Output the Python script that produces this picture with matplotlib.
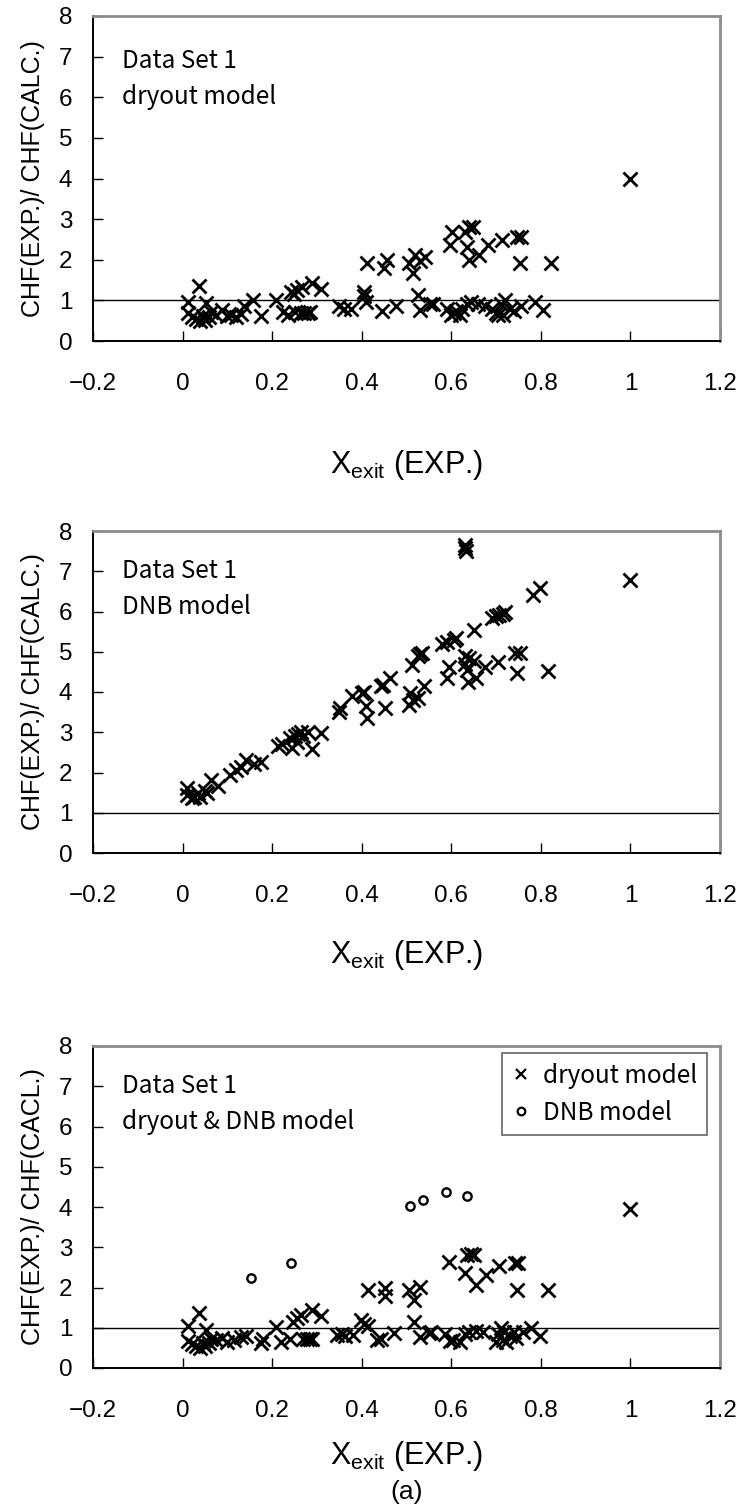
import matplotlib
matplotlib.use("Agg")
import matplotlib.pyplot as plt
from matplotlib.lines import Line2D
from matplotlib.ticker import FixedLocator, FixedFormatter

plt.rcParams['font.family'] = ['Liberation Sans', 'DejaVu Sans']
plt.rcParams['mathtext.default'] = 'regular'

# ---- data -----------------------------------------------------------------
# Panel 1: dryout model
dry_x = [0.013, 0.036, 0.013, 0.020, 0.030, 0.040, 0.045, 0.053, 0.063, 0.050,
         0.058, 0.075, 0.087, 0.100, 0.109, 0.120, 0.130, 0.138, 0.158, 0.175,
         0.209, 0.224, 0.235, 0.242, 0.248, 0.256, 0.267, 0.290, 0.309, 0.250,
         0.265, 0.272, 0.280, 0.285, 0.350, 0.360, 0.375, 0.404, 0.405, 0.410,
         0.411, 0.446, 0.456, 0.450, 0.476, 0.505, 0.520, 0.515, 0.542, 0.530,
         0.526, 0.530, 0.553, 0.560, 0.590, 0.600, 0.605, 0.610, 0.620, 0.625,
         0.635, 0.645, 0.660, 0.675, 0.690, 0.700, 0.705, 0.710, 0.715, 0.720,
         0.730, 0.740, 0.755, 0.787, 0.805, 0.598, 0.602, 0.631, 0.640, 0.648,
         0.636, 0.639, 0.661, 0.683, 0.713, 0.746, 0.755, 0.753, 0.822, 1.000]
dry_y = [0.97, 1.35, 0.68, 0.60, 0.55, 0.50, 0.62, 0.93, 0.72, 0.52,
         0.60, 0.65, 0.76, 0.62, 0.65, 0.60, 0.66, 0.85, 1.01, 0.61,
         1.01, 0.71, 0.65, 1.21, 1.15, 1.25, 1.33, 1.42, 1.28, 0.72,
         0.70, 0.68, 0.70, 0.72, 0.85, 0.80, 0.78, 1.21, 1.10, 0.97,
         1.91, 0.74, 2.00, 1.79, 0.85, 1.92, 2.12, 1.67, 2.06, 1.98,
         1.13, 0.76, 0.91, 0.90, 0.80, 0.65, 0.70, 0.75, 0.65, 0.80,
         0.90, 0.97, 0.90, 0.85, 0.80, 0.70, 0.65, 0.90, 0.65, 1.00,
         0.80, 0.75, 0.85, 0.97, 0.76, 2.36, 2.69, 2.69, 2.80, 2.80,
         2.32, 2.00, 2.12, 2.36, 2.49, 2.55, 2.55, 1.91, 1.91, 4.00]

# Panel 2: DNB model
dnb_x = [0.009, 0.011, 0.020, 0.025, 0.035, 0.040, 0.050, 0.055, 0.064, 0.079,
         0.105, 0.120, 0.130, 0.142, 0.160, 0.175, 0.213, 0.223, 0.240, 0.245,
         0.250, 0.258, 0.265, 0.255, 0.270, 0.280, 0.290, 0.309, 0.350, 0.352,
         0.379, 0.401, 0.405, 0.410, 0.411, 0.442, 0.448, 0.464, 0.451, 0.505,
         0.507, 0.515, 0.525, 0.539, 0.513, 0.525, 0.530, 0.535, 0.580, 0.590,
         0.605, 0.610, 0.594, 0.590, 0.631, 0.633, 0.631, 1.000, 0.783, 0.798,
         0.690, 0.700, 0.707, 0.715, 0.720, 0.650, 0.631, 0.640, 0.650, 0.631,
         0.635, 0.638, 0.655, 0.676, 0.705, 0.742, 0.753, 0.746, 0.816]
dnb_y = [1.61, 1.45, 1.36, 1.40, 1.49, 1.40, 1.55, 1.50, 1.82, 1.67,
         1.94, 2.05, 2.14, 2.31, 2.20, 2.27, 2.65, 2.72, 2.85, 2.60,
         2.90, 2.95, 3.00, 2.75, 2.90, 3.00, 2.59, 2.98, 3.51, 3.60,
         3.89, 3.97, 4.00, 3.65, 3.35, 4.14, 4.17, 4.35, 3.60, 3.68,
         3.98, 3.80, 3.85, 4.14, 4.68, 4.90, 4.95, 4.97, 5.20, 5.25,
         5.30, 5.35, 4.63, 4.34, 7.58, 7.50, 7.66, 6.79, 6.42, 6.58,
         5.85, 5.88, 5.92, 5.95, 6.00, 5.55, 4.90, 4.85, 4.78, 4.70,
         4.55, 4.25, 4.35, 4.63, 4.75, 4.97, 4.97, 4.47, 4.51]

# Panel 3: combined model, points taken from the dryout correlation
mix_dry_x = [0.013, 0.036, 0.013, 0.020, 0.030, 0.040, 0.045, 0.053, 0.063, 0.050,
             0.058, 0.075, 0.087, 0.100, 0.115, 0.130, 0.142, 0.175, 0.180, 0.209,
             0.220, 0.240, 0.246, 0.255, 0.264, 0.270, 0.278, 0.284, 0.290, 0.290,
             0.309, 0.345, 0.355, 0.362, 0.380, 0.398, 0.405, 0.413, 0.413, 0.435,
             0.442, 0.453, 0.453, 0.471, 0.505, 0.516, 0.516, 0.531, 0.530, 0.550,
             0.555, 0.587, 0.598, 0.604, 0.620, 0.630, 0.640, 0.655, 0.670, 0.700,
             0.705, 0.712, 0.715, 0.718, 0.722, 0.730, 0.740, 0.745, 0.760, 0.779,
             0.798, 0.594, 0.635, 0.643, 0.650, 0.631, 0.656, 0.678, 0.707, 0.742,
             0.750, 0.747, 0.816, 0.999]
mix_dry_y = [1.05, 1.36, 0.68, 0.60, 0.55, 0.50, 0.62, 0.95, 0.72, 0.55,
             0.62, 0.70, 0.75, 0.65, 0.70, 0.78, 0.80, 0.62, 0.73, 1.03,
             0.65, 0.72, 1.15, 1.25, 1.32, 0.73, 0.73, 0.73, 0.73, 1.44,
             1.29, 0.82, 0.85, 0.80, 0.82, 1.20, 1.10, 1.05, 1.94, 0.70,
             0.72, 2.00, 1.80, 0.86, 1.94, 1.69, 1.15, 2.02, 0.77, 0.88,
             0.90, 0.85, 0.66, 0.70, 0.65, 0.85, 0.90, 0.92, 0.90, 0.65,
             0.85, 1.00, 0.70, 0.90, 0.65, 0.80, 0.90, 0.75, 0.90, 1.00,
             0.80, 2.64, 2.80, 2.82, 2.80, 2.35, 2.06, 2.30, 2.53, 2.60,
             2.60, 1.94, 1.94, 3.95]
# Panel 3: points taken from the DNB correlation
mix_dnb_x = [0.153, 0.241, 0.507, 0.536, 0.589, 0.635]
mix_dnb_y = [2.23, 2.62, 4.02, 4.17, 4.37, 4.28]

x_ticks = [-0.2, 0, 0.2, 0.4, 0.6, 0.8, 1.0, 1.2]
x_tick_labels = ['\u22120.2', '0', '0.2', '0.4', '0.6', '0.8', '1', '1.2']
y_ticks = [0, 1, 2, 3, 4, 5, 6, 7, 8]

panel_notes = [('Data Set 1', 'dryout model'),
               ('Data Set 1', 'DNB model'),
               ('Data Set 1', 'dryout & DNB model')]
y_labels = ['CHF(EXP.)/ CHF(CALC.)', 'CHF(EXP.)/ CHF(CALC.)', 'CHF(EXP.)/ CHF(CACL.)']
x_label = r'X$_{exit}$ (EXP.)'

# ---- figure ---------------------------------------------------------------
W, H = 741, 1508
fig = plt.figure(figsize=(W / 100, H / 100), dpi=100)

ax_left, ax_right = 93, 720
panel_px = [(16, 341), (531, 853), (1046, 1368)]   # (top, bottom) in pixels
xlabel_pads = [38, 22, 12]

note_font = ['Noto Sans CJK JP', 'DejaVu Sans']
axes = []
for i, (top, bot) in enumerate(panel_px):
    ax = fig.add_axes([ax_left / W, 1 - bot / H, (ax_right - ax_left) / W, (bot - top) / H])
    axes.append(ax)
    ax.set_xlim(-0.2, 1.2)
    ax.set_ylim(0, 8)
    ax.xaxis.set_major_locator(FixedLocator(x_ticks))
    ax.xaxis.set_major_formatter(FixedFormatter(x_tick_labels))
    ax.set_yticks(y_ticks)
    ax.tick_params(direction='in', length=7, width=1, labelsize=17.5, colors='black')
    ax.tick_params(axis='x', pad=23)
    ax.tick_params(axis='y', pad=15)
    for side in ('left', 'bottom'):
        ax.spines[side].set_color('black')
        ax.spines[side].set_linewidth(1.4)
    for side in ('top', 'right'):
        ax.spines[side].set_color('#8c8c8c')
        ax.spines[side].set_linewidth(2.0)
    ax.axhline(1.0, color='black', lw=1.0, zorder=1)
    ax.set_ylabel(y_labels[i], fontsize=18, labelpad=10)
    ax.set_xlabel(x_label, fontsize=22, labelpad=xlabel_pads[i])
    l1, l2 = panel_notes[i]
    ax.text(0.047, 0.86 if i == 0 else 0.875, l1, transform=ax.transAxes,
            fontsize=17.5, family=note_font, va='center', ha='left')
    ax.text(0.047, 0.75 if i == 0 else 0.765, l2, transform=ax.transAxes,
            fontsize=17.5, family=note_font, va='center', ha='left')

mk = dict(linestyle='none', marker='x', color='black', markersize=10, markeredgewidth=2.0)
axes[0].plot(dry_x, dry_y, **mk, zorder=3)
axes[1].plot(dnb_x, dnb_y, **mk, zorder=3)
axes[2].plot(mix_dry_x, mix_dry_y, **mk, zorder=3)
axes[2].plot(mix_dnb_x, mix_dnb_y, linestyle='none', marker='o', markersize=6,
             markerfacecolor='white', markeredgecolor='black', markeredgewidth=1.7, zorder=3)

handles = [Line2D([], [], linestyle='none', marker='x', color='black', markersize=7,
                  markeredgewidth=1.6),
           Line2D([], [], linestyle='none', marker='o', markersize=5.5, markerfacecolor='white',
                  markeredgecolor='black', markeredgewidth=1.6)]
leg = axes[2].legend(handles, ['dryout model', 'DNB model'], loc='upper right',
                     bbox_to_anchor=(0.979, 0.978), borderaxespad=0, fancybox=False,
                     frameon=True, edgecolor='#666666', framealpha=1,
                     prop={'family': note_font, 'size': 17.5}, handlelength=0.8,
                     handletextpad=0.5, labelspacing=0.45, borderpad=0.4)
leg.get_frame().set_linewidth(1.2)

fig.text((ax_left + ax_right) / 2 / W, 1 - 1492 / H, '(a)', ha='center', va='center',
         fontsize=19)

fig.savefig('out.png', dpi=100)
